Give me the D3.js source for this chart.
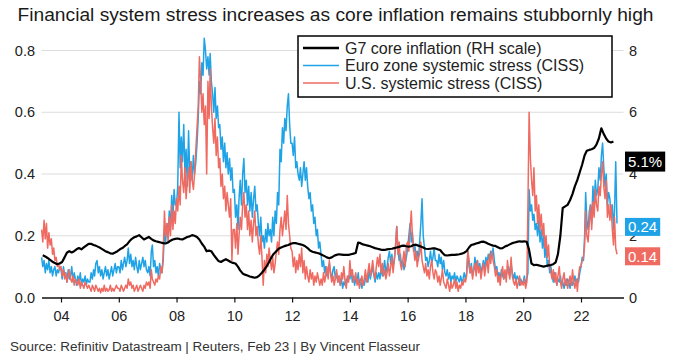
<!DOCTYPE html>
<html><head><meta charset="utf-8">
<script src="https://cdn.jsdelivr.net/npm/d3@7"></script>
<style>body{margin:0;background:#fff;} svg{display:block;font-family:"Liberation Sans",Arial,sans-serif;}</style>
</head><body><svg id="chart" width="685" height="355"></svg>
<script>
const titleText = "Financial system stress increases as core inflation remains stubbornly high";
const sourceText = "Source: Refinitiv Datastream | Reuters, Feb 23  | By Vincent Flasseur";
const legendLabels = ["G7 core inflation (RH scale)", "Euro zone systemic stress (CISS)", "U.S. systemic stress (CISS)"];
const xTickYears = [2004, 2006, 2008, 2010, 2012, 2014, 2016, 2018, 2020, 2022];
const leftTicks = [0, 0.2, 0.4, 0.6, 0.8];
const rightTicks = [0, 2, 4, 6, 8];
const endLabels = ["5.1%", "0.24", "0.14"];
// CISS: twice-monthly readings (1st and 16th) from May 2003
const euroStress = [
0.13,0.1,0.12,0.08,0.11,0.09,0.12,0.08,0.1,0.07,0.09,0.1,0.07,0.09,0.08,0.1,
0.09,0.06,0.1,0.07,0.08,0.05,0.09,0.06,0.07,0.1,0.05,0.08,0.06,0.04,0.07,0.05,0.08,0.04,0.06,0.05,0.07,0.04,0.06,0.05,
0.05,0.08,0.06,0.09,0.07,0.11,0.12,0.08,0.1,0.07,0.09,0.06,0.08,0.1,0.07,0.09,0.06,0.08,0.1,0.07,0.09,0.11,0.08,0.1,
0.1,0.08,0.12,0.09,0.11,0.13,0.1,0.12,0.16,0.11,0.14,0.1,0.12,0.09,0.13,0.1,0.08,0.12,0.09,0.11,0.13,0.1,0.12,0.09,
0.08,0.1,0.07,0.15,0.17,0.1,0.12,0.08,0.1,0.07,0.11,0.09,0.08,0.12,0.22,0.18,0.24,0.2,0.28,0.22,0.33,0.26,0.35,0.3,
0.3,0.36,0.6,0.42,0.52,0.44,0.56,0.4,0.48,0.36,0.54,0.4,0.44,0.38,0.46,0.4,0.44,0.5,0.58,0.7,0.66,0.76,0.72,0.84,
0.8,0.74,0.78,0.72,0.79,0.7,0.66,0.6,0.68,0.58,0.62,0.55,0.56,0.48,0.52,0.44,0.5,0.42,0.47,0.4,0.45,0.38,0.42,0.34,
0.35,0.26,0.3,0.22,0.32,0.38,0.3,0.4,0.45,0.34,0.38,0.3,0.36,0.28,0.34,0.26,0.32,0.36,0.28,0.3,0.24,0.2,0.26,0.18,
0.2,0.16,0.22,0.18,0.24,0.2,0.22,0.18,0.26,0.2,0.28,0.24,0.34,0.3,0.48,0.44,0.55,0.5,0.58,0.54,0.62,0.66,0.56,0.5,
0.5,0.46,0.52,0.42,0.44,0.4,0.38,0.42,0.36,0.4,0.44,0.38,0.42,0.36,0.32,0.34,0.28,0.3,0.24,0.26,0.2,0.22,0.16,0.18,
0.14,0.1,0.12,0.08,0.1,0.07,0.09,0.11,0.08,0.06,0.09,0.1,0.06,0.08,0.05,0.07,0.04,0.06,0.03,0.05,0.04,0.06,0.05,0.07,
0.06,0.09,0.05,0.07,0.04,0.06,0.05,0.08,0.04,0.06,0.03,0.05,0.04,0.06,0.07,0.05,0.09,0.06,0.08,0.1,0.07,0.05,0.08,0.06,
0.08,0.06,0.1,0.07,0.09,0.12,0.08,0.1,0.13,0.15,0.11,0.14,0.1,0.12,0.16,0.23,0.15,0.12,0.14,0.1,0.12,0.09,0.11,0.13,
0.16,0.2,0.24,0.18,0.21,0.15,0.17,0.13,0.15,0.12,0.18,0.24,0.32,0.2,0.16,0.12,0.13,0.1,0.12,0.15,0.11,0.13,0.16,0.12,
0.12,0.1,0.14,0.11,0.13,0.09,0.12,0.08,0.07,0.09,0.06,0.08,0.05,0.07,0.06,0.08,0.05,0.07,0.06,0.05,0.07,0.05,0.06,0.08,
0.06,0.08,0.15,0.1,0.08,0.11,0.07,0.09,0.13,0.1,0.12,0.09,0.11,0.08,0.1,0.12,0.09,0.13,0.11,0.14,0.12,0.15,0.13,0.16,
0.12,0.09,0.1,0.07,0.08,0.06,0.09,0.07,0.06,0.08,0.07,0.09,0.1,0.07,0.11,0.08,0.06,0.08,0.05,0.07,0.06,0.04,0.06,0.05,
0.05,0.07,0.04,0.06,0.08,0.35,0.28,0.3,0.25,0.27,0.22,0.24,0.2,0.25,0.18,0.22,0.16,0.2,0.13,0.17,0.1,0.12,0.08,0.1,
0.07,0.05,0.08,0.06,0.04,0.06,0.05,0.07,0.04,0.05,0.03,0.05,0.04,0.06,0.05,0.03,0.06,0.04,0.05,0.07,0.04,0.06,0.05,0.08,
0.1,0.13,0.12,0.2,0.34,0.25,0.22,0.28,0.3,0.24,0.36,0.3,0.38,0.33,0.35,0.42,0.38,0.46,0.5,0.42,0.36,0.4,0.3,0.34,
0.32,0.26,0.3,0.22,0.28,0.44,0.24
];
const usStress = [
0.22,0.18,0.25,0.19,0.24,0.16,0.21,0.17,0.19,0.14,0.16,0.12,0.13,0.1,0.11,0.09,
0.1,0.07,0.09,0.06,0.08,0.05,0.07,0.09,0.06,0.05,0.07,0.04,0.06,0.05,0.04,0.06,0.03,0.05,0.04,0.03,0.05,0.04,0.03,0.04,
0.03,0.02,0.04,0.03,0.02,0.04,0.03,0.02,0.03,0.015,0.03,0.02,0.04,0.02,0.03,0.02,0.025,0.04,0.02,0.03,0.02,0.03,0.04,0.03,
0.03,0.02,0.04,0.03,0.02,0.03,0.04,0.03,0.06,0.04,0.05,0.03,0.04,0.02,0.03,0.04,0.02,0.03,0.04,0.03,0.02,0.04,0.03,0.05,
0.04,0.05,0.03,0.09,0.06,0.05,0.04,0.06,0.05,0.07,0.06,0.1,0.08,0.14,0.28,0.2,0.24,0.18,0.26,0.2,0.3,0.22,0.28,0.24,
0.32,0.28,0.36,0.3,0.46,0.38,0.34,0.42,0.32,0.38,0.42,0.34,0.44,0.38,0.35,0.4,0.48,0.55,0.62,0.78,0.7,0.6,0.66,0.56,
0.62,0.4,0.7,0.58,0.74,0.62,0.55,0.5,0.58,0.46,0.52,0.42,0.45,0.36,0.4,0.32,0.36,0.28,0.34,0.3,0.26,0.32,0.12,0.22,
0.22,0.16,0.24,0.14,0.2,0.26,0.22,0.3,0.34,0.26,0.3,0.22,0.28,0.2,0.25,0.18,0.24,0.28,0.2,0.23,0.17,0.14,0.2,0.13,
0.04,0.12,0.08,0.14,0.1,0.16,0.12,0.09,0.13,0.08,0.11,0.15,0.18,0.14,0.22,0.26,0.2,0.24,0.28,0.22,0.33,0.24,0.2,0.16,
0.15,0.1,0.13,0.08,0.12,0.09,0.14,0.1,0.16,0.08,0.12,0.06,0.1,0.07,0.05,0.09,0.06,0.08,0.04,0.07,0.05,0.08,0.06,0.04,
0.06,0.04,0.08,0.05,0.07,0.1,0.06,0.12,0.08,0.05,0.07,0.04,0.06,0.09,0.05,0.07,0.04,0.08,0.06,0.1,0.05,0.03,0.07,0.05,
0.12,0.07,0.09,0.05,0.06,0.08,0.04,0.06,0.03,0.05,0.07,0.04,0.06,0.09,0.05,0.08,0.11,0.07,0.09,0.12,0.08,0.06,0.1,0.13,
0.1,0.14,0.08,0.11,0.07,0.09,0.06,0.08,0.11,0.07,0.1,0.13,0.08,0.12,0.17,0.23,0.14,0.18,0.11,0.09,0.12,0.15,0.1,0.17,
0.18,0.15,0.22,0.28,0.2,0.16,0.12,0.15,0.1,0.13,0.14,0.18,0.12,0.1,0.08,0.11,0.07,0.09,0.06,0.1,0.12,0.08,0.06,0.09,
0.08,0.05,0.07,0.04,0.06,0.09,0.05,0.04,0.03,0.06,0.04,0.02,0.05,0.03,0.04,0.06,0.03,0.05,0.02,0.04,0.03,0.05,0.04,0.06,
0.05,0.07,0.15,0.12,0.08,0.1,0.06,0.09,0.11,0.07,0.12,0.08,0.1,0.06,0.09,0.11,0.07,0.1,0.12,0.08,0.14,0.11,0.15,0.12,
0.1,0.07,0.09,0.05,0.07,0.04,0.08,0.1,0.06,0.09,0.05,0.12,0.08,0.06,0.13,0.07,0.05,0.04,0.06,0.03,0.05,0.07,0.04,0.05,
0.04,0.06,0.03,0.05,0.3,0.6,0.45,0.38,0.33,0.42,0.28,0.33,0.24,0.3,0.22,0.27,0.2,0.24,0.16,0.2,0.13,0.17,0.1,0.08,
0.06,0.09,0.05,0.08,0.04,0.07,0.1,0.05,0.03,0.06,0.08,0.04,0.06,0.03,0.05,0.07,0.04,0.09,0.05,0.03,0.06,0.02,0.07,0.1,
0.1,0.12,0.13,0.17,0.28,0.2,0.18,0.24,0.3,0.22,0.31,0.26,0.35,0.3,0.28,0.36,0.33,0.4,0.44,0.36,0.32,0.38,0.26,0.3,
0.25,0.3,0.22,0.17,0.26,0.16,0.14
];
// G7 core inflation, % y/y, monthly from May 2003
const g7CoreInflation = [
1.37,1.33,1.28,1.22,1.16,1.12,1.08,1.1,
1.15,1.3,1.45,1.5,1.46,1.5,1.56,1.6,1.56,1.62,1.68,1.74,
1.74,1.7,1.68,1.64,1.6,1.55,1.5,1.47,1.43,1.42,1.46,1.5,
1.56,1.6,1.66,1.72,1.82,1.9,1.95,1.98,2.02,1.95,1.88,1.92,
1.96,1.9,1.85,1.82,1.8,1.78,1.76,1.75,1.78,1.84,1.88,1.9,
1.91,1.89,1.88,1.92,1.96,1.98,2.02,2.0,1.96,1.88,1.75,1.65,
1.5,1.52,1.5,1.38,1.28,1.18,1.15,1.2,1.24,1.2,1.15,1.12,
1.1,1.0,0.88,0.78,0.74,0.71,0.68,0.66,0.64,0.66,0.72,0.8,
0.9,1.02,1.14,1.3,1.42,1.5,1.58,1.62,1.65,1.68,1.7,1.74,
1.76,1.76,1.74,1.72,1.7,1.66,1.6,1.52,1.48,1.46,1.44,1.42,
1.38,1.34,1.3,1.27,1.3,1.35,1.38,1.4,1.39,1.38,1.38,1.38,
1.4,1.42,1.44,1.78,1.76,1.72,1.7,1.68,1.66,1.63,1.6,1.58,
1.56,1.54,1.54,1.56,1.57,1.58,1.6,1.62,1.64,1.67,1.68,1.66,
1.65,1.66,1.7,1.71,1.68,1.65,1.62,1.58,1.57,1.58,1.59,1.59,
1.56,1.54,1.45,1.37,1.36,1.37,1.38,1.38,1.39,1.4,1.42,1.45,
1.5,1.62,1.7,1.72,1.75,1.77,1.8,1.81,1.78,1.74,1.71,1.68,
1.67,1.63,1.59,1.6,1.65,1.68,1.72,1.76,1.78,1.8,1.82,1.81,
1.82,1.8,1.55,1.1,1.05,1.06,1.04,1.02,1.0,1.02,1.04,1.05,
1.08,1.14,1.4,2.0,2.9,2.95,3.0,3.15,3.35,3.6,3.8,4.05,
4.3,4.6,4.75,4.78,4.8,4.84,4.95,5.15,5.48,5.3,5.15,5.05,
5.02,5.05
];

const C = {blue:"#1fa3e6", red:"#ef6b62", black:"#000", grid:"#dcdcdc", text:"#222"};
const svg = d3.select("#chart");

const semiMonthDate = i => new Date(2003, 4 + Math.floor(i / 2), i % 2 ? 16 : 1);
const monthDate = i => new Date(2003, 4 + i, 15);

const xRef = d3.scaleTime().domain([new Date(2004,0,1), new Date(2022,0,1)]).range([61, 581]);
const x = d3.scaleTime().domain([xRef.invert(41.5), xRef.invert(623.5)]).range([41.5, 623.5]);
const yL = d3.scaleLinear().domain([0, 0.8]).range([297.5, 50.5]);
const yR = d3.scaleLinear().domain([0, 8]).range([297.5, 50.5]);

// title
svg.append("text").attr("x", 17.5).attr("y", 21).attr("font-size", 17.5).attr("fill", "#1a1a1a")
  .attr("textLength", 636).attr("lengthAdjust", "spacingAndGlyphs").text(titleText);

// gridlines
svg.append("g").selectAll("line").data(leftTicks.filter(d => d > 0)).join("line")
  .attr("x1", x.range()[0]).attr("x2", x.range()[1])
  .attr("y1", d => yL(d)).attr("y2", d => yL(d))
  .attr("stroke", C.grid).attr("stroke-width", 1);

// left labels
svg.append("g").selectAll("text").data(leftTicks).join("text")
  .attr("x", 35).attr("y", d => yL(d) + 5).attr("text-anchor", "end")
  .attr("font-size", 14.5).attr("fill", C.text).text(d3.format(".1f"));
// right labels
svg.append("g").selectAll("text").data(rightTicks).join("text")
  .attr("x", 629).attr("y", d => yR(d) + 5).attr("text-anchor", "start")
  .attr("font-size", 14.5).attr("fill", C.text).text(d => d);

// series
const semiData = arr => arr.map((v, i) => ({date: semiMonthDate(i), v}));
const lineL = d3.line().x(d => x(d.date)).y(d => yL(d.v));
const lineR = d3.line().x(d => x(d.date)).y(d => yR(d.v));
svg.append("path").datum(semiData(euroStress)).attr("d", lineL)
  .attr("fill", "none").attr("stroke", C.blue).attr("stroke-width", 1.5).attr("stroke-linejoin", "round");
svg.append("path").datum(semiData(usStress)).attr("d", lineL)
  .attr("fill", "none").attr("stroke", C.red).attr("stroke-width", 1.5).attr("stroke-linejoin", "round");
svg.append("path").datum(g7CoreInflation.map((v, i) => ({date: monthDate(i), v}))).attr("d", lineR)
  .attr("fill", "none").attr("stroke", C.black).attr("stroke-width", 2.2).attr("stroke-linejoin", "round");

// x axis
const xAxis = d3.axisBottom(x).tickValues(xTickYears.map(y => new Date(y, 0, 1)))
  .tickFormat(d3.timeFormat("%y")).tickSize(5).tickSizeOuter(0).tickPadding(8.5);
const gx = svg.append("g").attr("transform", "translate(0,297.5)").call(xAxis);
gx.select(".domain").attr("stroke", "#111").attr("stroke-width", 1.5);
gx.selectAll(".tick line").attr("stroke", "#111").attr("stroke-width", 1.2);
gx.selectAll(".tick text").attr("font-size", 14.5).attr("fill", C.text)
  .attr("font-family", "'Liberation Sans', Arial, sans-serif");

// legend
const lg = svg.append("g");
lg.append("rect").attr("x", 298).attr("y", 36).attr("width", 314).attr("height", 61)
  .attr("fill", "#fff").attr("stroke", "#000").attr("stroke-width", 1.5);
const legendColors = [C.black, C.blue, C.red];
const legendWidths = [2.5, 1.5, 1.5];
legendLabels.forEach((lab, i) => {
  const cy = 48 + i * 17.5;
  lg.append("line").attr("x1", 303).attr("x2", 339).attr("y1", cy).attr("y2", cy)
    .attr("stroke", legendColors[i]).attr("stroke-width", legendWidths[i]);
  lg.append("text").attr("x", 345).attr("y", cy + 5.5).attr("font-size", 16).attr("fill", C.text).text(lab);
});

// end labels
const endY = [yR(g7CoreInflation[g7CoreInflation.length - 1]) + 20,
              yL(euroStress[euroStress.length - 1]) + 3.5,
              yL(usStress[usStress.length - 1]) + 2];
const endFill = [C.black, C.blue, C.red];
endLabels.forEach((lab, i) => {
  const g = svg.append("g");
  const h = i === 0 ? 20 : 18;
  const rect = g.append("rect").attr("x", 625).attr("y", endY[i] - h / 2).attr("height", h).attr("fill", endFill[i]);
  const t = g.append("text").attr("x", 628).attr("y", endY[i] + 5.3).attr("font-size", 15).attr("fill", "#fff").text(lab);
  const w = t.node().getComputedTextLength();
  rect.attr("width", w + 6);
});

// source
svg.append("text").attr("x", 10).attr("y", 351).attr("font-size", 12.5).attr("fill", "#333")
  .attr("textLength", 410).attr("lengthAdjust", "spacingAndGlyphs").text(sourceText);
</script>
</body></html>
